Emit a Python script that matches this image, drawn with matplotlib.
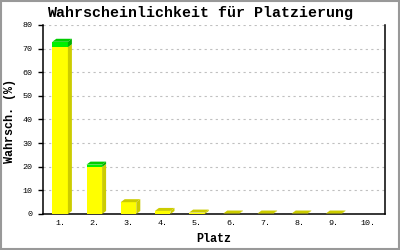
import matplotlib
matplotlib.use("Agg")
import matplotlib.pyplot as plt
from matplotlib.patches import Polygon, Rectangle

# --- data ---
places = ["1.", "2.", "3.", "4.", "5.", "6.", "7.", "8.", "9.", "10."]
prob_yellow = [70.6, 19.9, 5.0, 1.3, 0.6, 0.2, 0.2, 0.2, 0.2, 0.0]
prob_green = [2.3, 1.0, 0, 0, 0, 0, 0, 0, 0, 0]
yticks = [0, 10, 20, 30, 40, 50, 60, 70, 80]

MONO = "Liberation Mono"
YEL, YEL_DARK = "#ffff00", "#cccc00"
GRN, GRN_TOP, GRN_SIDE = "#00f000", "#00cc00", "#00b000"

fig = plt.figure(figsize=(4, 2.5), dpi=100)
ax = fig.add_axes([43 / 400, 36 / 250, 342 / 400, 189 / 250])
ax.set_xlim(0.5, 10.5)
ax.set_ylim(0, 80)

w = 0.456      # bar width (category units)
dx = 0.117     # 3d depth, x (about 4 px)
dy = 1.27      # 3d depth, y (about 3 px)


def block(x, y0, y1, front, side, top, draw_top):
    ax.add_patch(Rectangle((x - w / 2, y0), w, y1 - y0, facecolor=front,
                           edgecolor="none", zorder=3))
    ax.add_patch(Polygon([(x + w / 2, y0), (x + w / 2 + dx, y0 + dy),
                          (x + w / 2 + dx, y1 + dy), (x + w / 2, y1)],
                         closed=True, facecolor=side, edgecolor="none", zorder=3))
    if draw_top:
        ax.add_patch(Polygon([(x - w / 2, y1), (x - w / 2 + dx, y1 + dy),
                              (x + w / 2 + dx, y1 + dy), (x + w / 2, y1)],
                             closed=True, facecolor=top, edgecolor="none", zorder=3))


xs = list(range(1, len(places) + 1))
for x, yv, gv in zip(xs, prob_yellow, prob_green):
    if yv <= 0:
        continue
    block(x, 0, yv, YEL, YEL_DARK, YEL_DARK, gv <= 0)
    if gv > 0:
        block(x, yv, yv + gv, GRN, GRN_SIDE, GRN_TOP, True)

# grid & axes
ax.set_yticks(yticks)
ax.set_yticklabels([str(v) for v in yticks], family=MONO, fontsize=6)
ax.set_xticks(xs)
ax.set_xticklabels(places, family=MONO, fontsize=6)
ax.tick_params(axis="y", direction="out", length=3.6, width=1, pad=4, color="black")
ax.tick_params(axis="x", length=0, pad=4.5)
ax.yaxis.grid(True, color="#c0c0c0", ls=(0, (2, 3)), lw=0.8)
ax.set_axisbelow(True)
ax.spines["top"].set_visible(False)
for s in ("left", "right", "bottom"):
    ax.spines[s].set_linewidth(1.1)
    ax.spines[s].set_color("black")

fig.text(0.499, 0.948, "Wahrscheinlichkeit für Platzierung", ha="center",
         va="center", family=MONO, fontweight="bold", fontsize=10.8)
fig.text(214 / 400, 11 / 250, "Platz", ha="center", va="center",
         family=MONO, fontweight="bold", fontsize=8.5)
fig.text(10 / 400, 1 - 121 / 250, "Wahrsch. (%)", ha="center", va="center",
         rotation=90, family=MONO, fontweight="bold", fontsize=8.5)

# gray frame around the whole picture
fig.patches.append(Rectangle((0.002, 0.003), 0.996, 0.994, transform=fig.transFigure,
                             fill=False, edgecolor="#999999", lw=1.5))

fig.savefig("out.png", dpi=100)
